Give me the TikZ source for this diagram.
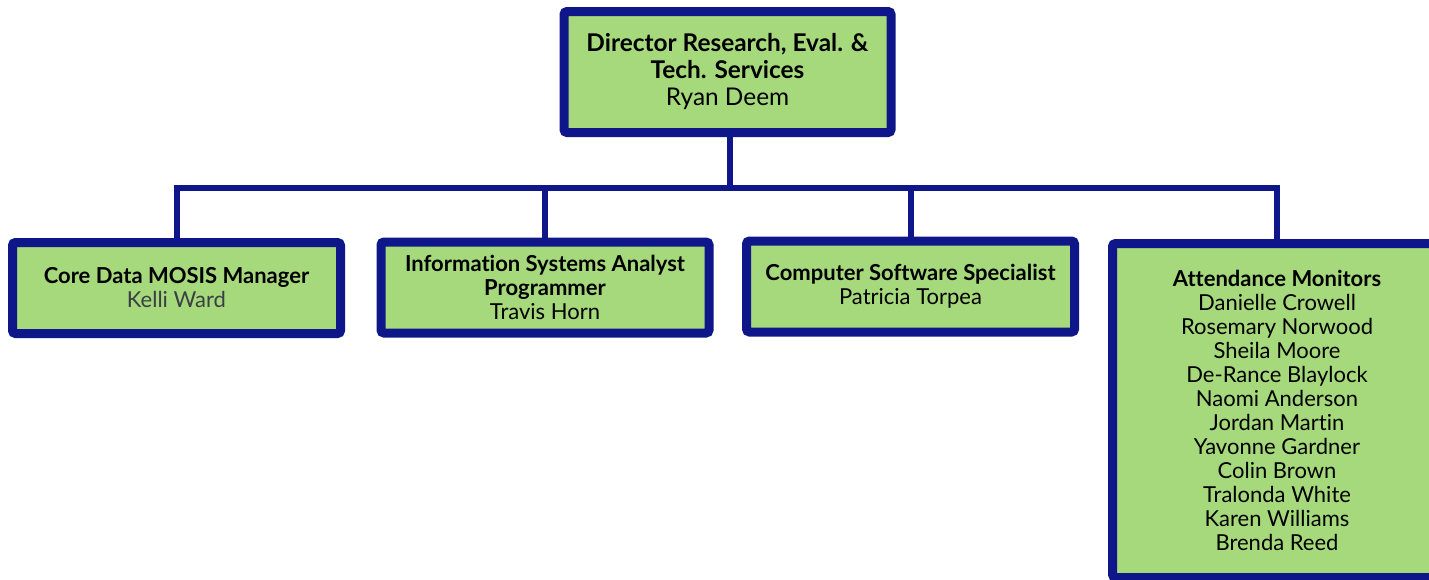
\documentclass[tikz,border=0pt]{standalone}
\usepackage{fontspec}
\setmainfont{Lato}[Ligatures=NoCommon]
\usetikzlibrary{positioning}

\definecolor{orgnavy}{HTML}{0E1689}
\definecolor{orggreen}{HTML}{A5D97B}
\definecolor{namegray}{HTML}{3A3F44}

\begin{document}
\begin{tikzpicture}[
    x=0.5pt, y=-0.5pt,
    base/.style = {rectangle, rounded corners=1.5pt, draw=orgnavy, line width=4.5pt,
fill=orggreen, inner sep=0pt, align=center, text=black},
    head/.style = {base, minimum width=163.5pt, minimum height=60.5pt,
font=\fontsize{12.2}{13.5}\selectfont},
    unit/.style = {base, minimum width=164pt, minimum height=45.5pt,
font=\fontsize{11}{12}\selectfont},
    link/.style = {draw=orgnavy, line width=3pt}
]
  \useasboundingbox (0,0) rectangle (1429,579);

  \coordinate (bus) at (730,188);

  \node (director) [head] at (727.5,72)
    {\textbf{Director Research, Eval. \&}\\\textbf{Tech. Services}\\Ryan Deem};
  \node (coredata) [unit] at (176.5,288)
    {\textbf{Core Data MOSIS Manager}\\\textcolor{namegray}{Kelli Ward}};
  \node (infosys) [unit] at (545,287.5)
    {\textbf{Information Systems Analyst}\\\textbf{Programmer}\\Travis Horn};
  \node (software) [unit] at (910.5,286.5)
    {\textbf{Computer Software Specialist}\\Patricia Torpea};
  \node (attendance) [unit, minimum width=164.5pt, minimum height=167pt] at (1277,410.5)
    {\textbf{Attendance Monitors}\\Danielle Crowell\\Rosemary Norwood\\Sheila Moore\\
     De-Rance Blaylock\\Naomi Anderson\\Jordan Martin\\Yavonne Gardner\\Colin Brown\\
     Tralonda White\\Karen Williams\\Brenda Reed};

  \draw[link] (director.south -| bus) -- (bus);
  \draw[link] (coredata.north) -- (coredata.north |- bus) -- (attendance.north |- bus) -- (attendance.north);
  \draw[link] (infosys.north) -- (infosys.north |- bus);
  \draw[link] (software.north) -- (software.north |- bus);

\end{tikzpicture}
\end{document}
